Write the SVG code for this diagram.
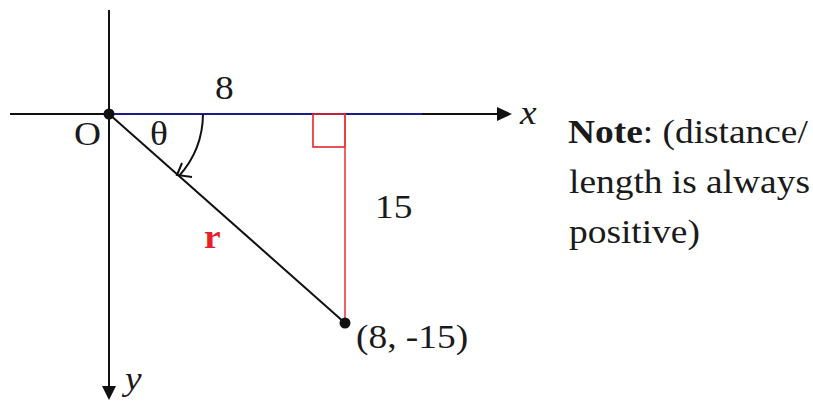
<svg xmlns="http://www.w3.org/2000/svg" width="813" height="403" viewBox="0 0 813 403">
<style>
.t{font-family:"Liberation Serif","Times New Roman",serif;font-size:34px;fill:#1a1a1a}
.i{font-style:italic}
.b{font-weight:bold}
.ax{stroke:#111;stroke-width:2;fill:none}
</style>
<rect width="813" height="403" fill="#fff"/>
<g id="axes">
<line class="ax" x1="109" y1="10" x2="109" y2="388"/>
<polygon points="102,386 116,386 109,400" fill="#111"/>
<line class="ax" x1="10" y1="114" x2="500" y2="114"/>
<polygon points="497,107 497,121 512,114" fill="#111"/>
<line x1="109" y1="114" x2="422" y2="114" stroke="#1c1c8a" stroke-width="2"/>
</g>
<g id="triangle">
<rect x="313" y="114" width="32" height="33" fill="none" stroke="#e8232b" stroke-width="1.6"/>
<line x1="345" y1="114" x2="345" y2="323" stroke="#ec3a42" stroke-width="1.6"/>
<line x1="109" y1="114" x2="345" y2="323" stroke="#111" stroke-width="2"/>
<path d="M203,114 A94,94 0 0 1 179,176" fill="none" stroke="#111" stroke-width="2"/>
<polyline points="182,163 177,175 192,177" fill="none" stroke="#111" stroke-width="2"/>
<circle cx="109" cy="114" r="5.5" fill="#111"/>
<circle cx="345" cy="323" r="5.5" fill="#111"/>
</g>
<g id="labels">
<text class="t" transform="translate(215,99) scale(1.1,1)">8</text>
<text class="t" transform="translate(74,145) scale(1.1,1)">O</text>
<text class="t" transform="translate(150,145) scale(1.1,1)">θ</text>
<text class="t i" transform="translate(520,124) scale(1.1,1)">x</text>
<text class="t i" transform="translate(125,390) scale(1.1,1)">y</text>
<text class="t" transform="translate(375,218) scale(1.1,1)">15</text>
<text class="t b" transform="translate(204,248) scale(1.1,1)" style="fill:#e8202a">r</text>
<text class="t" transform="translate(356,348) scale(1.1,1)">(8, -15)</text>
</g>
<g id="note">
<text class="t" transform="translate(568,143) scale(1.1,1)"><tspan class="b">Note</tspan>: (distance/</text>
<text class="t" transform="translate(569,193) scale(1.1,1)">length is always</text>
<text class="t" transform="translate(569,243) scale(1.1,1)">positive)</text>
</g>
</svg>
